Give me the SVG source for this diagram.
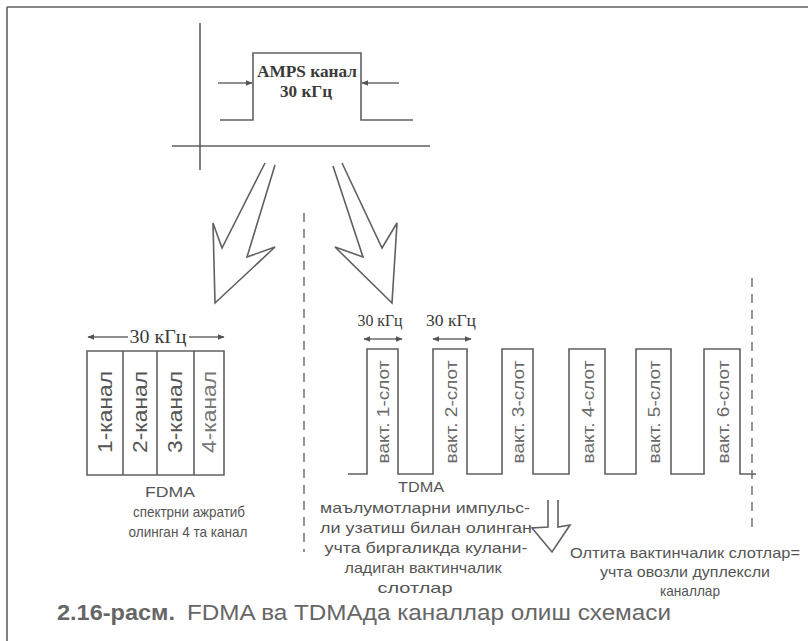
<svg xmlns="http://www.w3.org/2000/svg" width="809" height="641" viewBox="0 0 809 641">
<style>
.ln{stroke:#606060;stroke-width:1.6;fill:none}
.th{stroke:#6a6a6a;stroke-width:1.3;fill:none}
.dash{stroke:#6a6a6a;stroke-width:1.4;fill:none;stroke-dasharray:9 7}
.sf{font-family:"Liberation Serif","Times New Roman",serif;fill:#3a3a3a}
.sn{font-family:"Liberation Sans",Arial,sans-serif;fill:#555}
.rot{font-family:"Liberation Sans",Arial,sans-serif;fill:#6a6a6a;font-size:17px}
.ch{font-family:"Liberation Sans",Arial,sans-serif;fill:#555;font-size:20px}
.cap{font-family:"Liberation Sans",Arial,sans-serif;fill:#666;font-size:22px}
</style>
<defs>
<marker id="ah" viewBox="0 0 10 10" refX="9" refY="5" markerWidth="7" markerHeight="7" orient="auto-start-reverse" markerUnits="userSpaceOnUse">
<path d="M0,1 L10,5 L0,9 z" fill="#555"/>
</marker>
</defs>
<rect width="809" height="641" fill="#fff"/>

<g id="frame">
<path class="ln" d="M7,7 H808 M7,7 V641"/>
</g>

<g id="amps">
<path class="ln" d="M200,23 V170 M172,146 H430"/>
<path class="ln" d="M220,120 H253 V53 H361 V120 H413"/>
<text class="sf" x="307" y="77" font-size="16" font-weight="bold" text-anchor="middle" textLength="100" lengthAdjust="spacingAndGlyphs">AMPS канал</text>
<text class="sf" x="306" y="97" font-size="16" font-weight="bold" text-anchor="middle" textLength="52" lengthAdjust="spacingAndGlyphs">30 кГц</text>
</g>

<g id="connectors">
<line class="th" x1="218" y1="83" x2="252" y2="83" marker-end="url(#ah)"/>
<line class="th" x1="399" y1="83" x2="362" y2="83" marker-end="url(#ah)"/>
<path class="ln" d="M265,163 L222,248 L213,223 L215,303 L275,247 L247,257 L275,165"/>
<path class="ln" d="M333,166 L363,257 L335,247 L392,303 L397,223 L382,248 L342,163"/>
<path class="ln" d="M548,500 L548,527 L532,528 L552,552 L570,525 L558,527 L558,500"/>
<line class="th" x1="88" y1="337" x2="128" y2="337" marker-start="url(#ah)"/>
<line class="th" x1="189" y1="337" x2="224" y2="337" marker-end="url(#ah)"/>
<line class="th" x1="364" y1="339" x2="402" y2="339" marker-start="url(#ah)" marker-end="url(#ah)"/>
<line class="th" x1="433" y1="339" x2="471" y2="339" marker-start="url(#ah)" marker-end="url(#ah)"/>
<line class="dash" x1="304" y1="213" x2="304" y2="552"/>
<line class="dash" x1="752" y1="278" x2="752" y2="528"/>
</g>

<g id="fdma">
<text class="sf" x="158" y="343" font-size="18" text-anchor="middle" textLength="57" lengthAdjust="spacingAndGlyphs">30 кГц</text>
<path class="ln" d="M87,351 H224 V475 H87 Z M123,351 V475 M157,351 V475 M194,351 V475"/>
<text class="ch" transform="translate(112,412) rotate(-90)" text-anchor="middle" textLength="82" lengthAdjust="spacingAndGlyphs">1-канал</text>
<text class="ch" transform="translate(147,412) rotate(-90)" text-anchor="middle" textLength="82" lengthAdjust="spacingAndGlyphs">2-канал</text>
<text class="ch" transform="translate(182,412) rotate(-90)" text-anchor="middle" textLength="82" lengthAdjust="spacingAndGlyphs">3-канал</text>
<text class="ch" transform="translate(216,412) rotate(-90)" text-anchor="middle" textLength="82" lengthAdjust="spacingAndGlyphs" style="fill:#777">4-канал</text>
<text class="sn" x="170" y="497" font-size="15" text-anchor="middle" textLength="50" lengthAdjust="spacingAndGlyphs">FDMA</text>
<text class="sn" x="189" y="517" font-size="15" text-anchor="middle" textLength="112" lengthAdjust="spacingAndGlyphs">спектрни ажратиб</text>
<text class="sn" x="188" y="537" font-size="15" text-anchor="middle" textLength="119" lengthAdjust="spacingAndGlyphs">олинган 4 та канал</text>
</g>

<g id="tdma">
<text class="sf" x="380" y="326" font-size="17" text-anchor="middle" textLength="45" lengthAdjust="spacingAndGlyphs">30 кГц</text>
<text class="sf" x="451" y="326" font-size="17" text-anchor="middle" textLength="50" lengthAdjust="spacingAndGlyphs">30 кГц</text>
<path class="ln" d="M348,474 H367 V349 H398 V474 H433 V349 H467 V474 H502 V349 H533 V474 H569 V349 H605 V474 H636 V349 H671 V474 H704 V349 H740 V474 H756"/>
<text class="rot" transform="translate(389,412) rotate(-90)" text-anchor="middle" textLength="103" lengthAdjust="spacingAndGlyphs">вакт. 1-слот</text>
<text class="rot" transform="translate(457,412) rotate(-90)" text-anchor="middle" textLength="103" lengthAdjust="spacingAndGlyphs">вакт. 2-слот</text>
<text class="rot" transform="translate(524,412) rotate(-90)" text-anchor="middle" textLength="103" lengthAdjust="spacingAndGlyphs">вакт. 3-слот</text>
<text class="rot" transform="translate(594,412) rotate(-90)" text-anchor="middle" textLength="103" lengthAdjust="spacingAndGlyphs">вакт. 4-слот</text>
<text class="rot" transform="translate(660,412) rotate(-90)" text-anchor="middle" textLength="103" lengthAdjust="spacingAndGlyphs">вакт. 5-слот</text>
<text class="rot" transform="translate(729,412) rotate(-90)" text-anchor="middle" textLength="103" lengthAdjust="spacingAndGlyphs">вакт. 6-слот</text>
<text class="sn" x="421" y="492" font-size="15" text-anchor="middle" textLength="46" lengthAdjust="spacingAndGlyphs">TDMA</text>
<text class="sn" x="425" y="513" font-size="14.5" text-anchor="middle" textLength="210" lengthAdjust="spacingAndGlyphs">маълумотларни импульс-</text>
<text class="sn" x="426" y="533" font-size="14.5" text-anchor="middle" textLength="212" lengthAdjust="spacingAndGlyphs">ли узатиш билан олинган</text>
<text class="sn" x="426" y="553" font-size="14.5" text-anchor="middle" textLength="203" lengthAdjust="spacingAndGlyphs">учта биргаликда кулани-</text>
<text class="sn" x="423" y="573" font-size="14.5" text-anchor="middle" textLength="157" lengthAdjust="spacingAndGlyphs">ладиган вактинчалик</text>
<text class="sn" x="415" y="593" font-size="14.5" text-anchor="middle" textLength="75" lengthAdjust="spacingAndGlyphs">слотлар</text>
</g>

<g id="duplex">
<text class="sn" x="685" y="558" font-size="15" text-anchor="middle" textLength="230" lengthAdjust="spacingAndGlyphs">Олтита вактинчалик слотлар=</text>
<text class="sn" x="685" y="577" font-size="15" text-anchor="middle" textLength="170" lengthAdjust="spacingAndGlyphs">учта овозли дуплексли</text>
<text class="sn" x="690" y="596" font-size="15" text-anchor="middle" textLength="60" lengthAdjust="spacingAndGlyphs">каналлар</text>
</g>

<g id="caption">
<text class="cap" x="57" y="620" font-weight="bold" textLength="118" lengthAdjust="spacingAndGlyphs">2.16-расм.</text>
<text class="cap" x="187" y="620" textLength="484" lengthAdjust="spacingAndGlyphs">FDMA ва TDMAда каналлар олиш схемаси</text>
</g>
</svg>
